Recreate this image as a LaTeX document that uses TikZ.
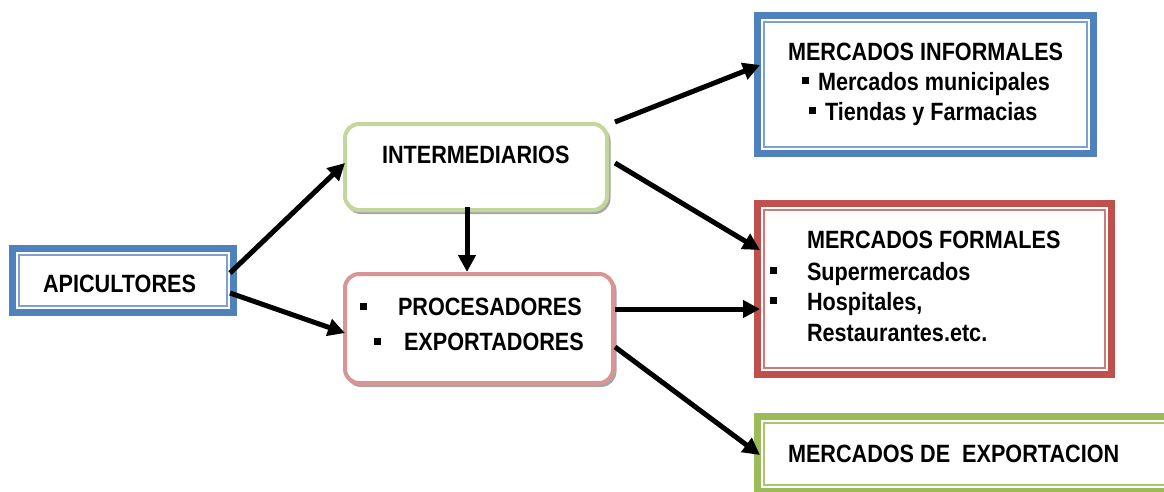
\documentclass[tikz,border=0pt]{standalone}
\usepackage{fontspec}
\setmainfont{Liberation Sans}[FakeStretch=0.865]
\usetikzlibrary{arrows.meta}
\definecolor{bandblue}{HTML}{4F81BD}
\definecolor{bandred}{HTML}{C0504D}
\definecolor{bandgreen}{HTML}{9BBB59}
\definecolor{lineblue}{HTML}{7EA1CF}
\definecolor{linered}{HTML}{D07A78}
\definecolor{linegreen}{HTML}{A9C56E}
\definecolor{rgreen}{HTML}{C3D69B}
\definecolor{rpink}{HTML}{D99594}
\definecolor{shadowgray}{HTML}{A6A6A6}
\tikzset{
  txt/.style={font=\fontsize{25}{30}\selectfont\bfseries, inner sep=0pt, outer sep=0pt, text=black},
  bul/.style={fill=black, minimum size=7pt, inner sep=0pt, outer sep=0pt},
  band/.style={draw=#1, line width=7pt, inner sep=0pt, outer sep=0pt, fill=white},
  thinline/.style={draw=#1, line width=2pt},
  rbox/.style={draw=#1, line width=4pt, rounded corners=14pt, inner sep=0pt, outer sep=0pt, fill=white,
     preaction={draw=shadowgray, line width=3pt, transform canvas={shift={(2pt,-2.5pt)}}}},
  arr/.style={line width=5pt, -{Triangle[length=17pt,width=17pt]}},
}
\begin{document}
\begin{tikzpicture}[x=1pt,y=-1pt]
\useasboundingbox (0,0) rectangle (1164,491);
\fill[white] (0,0) rectangle (1164,491);
\begin{scope}
\clip (0,0) rectangle (1164,491);
% double-band boxes
\node[band=bandblue, minimum width=221pt, minimum height=64pt] (api) at (123,280.5) {};
\node[band=bandblue, minimum width=336pt, minimum height=138pt] (inf) at (925.5,84.5) {};
\node[band=bandred, minimum width=354pt, minimum height=171pt] (for) at (934.5,289) {};
\node[band=bandgreen, minimum width=414pt, minimum height=75pt] (exp) at (964.5,454) {};
\draw[thinline=lineblue] ([shift={(6.8,6.8)}]api.north west) rectangle ([shift={(-6.8,-6.8)}]api.south east);
\draw[thinline=lineblue] ([shift={(6.8,6.8)}]inf.north west) rectangle ([shift={(-6.8,-6.8)}]inf.south east);
\draw[thinline=linered] ([shift={(6.8,6.8)}]for.north west) rectangle ([shift={(-6.8,-6.8)}]for.south east);
\draw[thinline=linegreen] ([shift={(6.8,6.8)}]exp.north west) rectangle ([shift={(-6.8,-6.8)}]exp.south east);
% rounded boxes
\node[rbox=rgreen, minimum width=262pt, minimum height=86pt] (int) at (476,167) {};
\node[rbox=rpink, minimum width=268pt, minimum height=109pt] (proc) at (479,328.5) {};
% texts
\node[txt, anchor=base west] (tapi) at (43,292) {APICULTORES};
\node[txt, anchor=base west] (tint) at (382,163) {INTERMEDIARIOS};
\node[bul] (bp1) at (363,306) {};
\node[txt, anchor=base west] (tproc) at (398,315) {PROCESADORES};
\node[bul] (bp2) at (377,341) {};
\node[txt, anchor=base west] (texpo) at (404,350) {EXPORTADORES};
\node[txt, anchor=base west] (tinf) at (788,60) {MERCADOS INFORMALES};
\node[bul] (bi1) at (805,80) {};
\node[txt, anchor=base west] (tmun) at (818,90) {Mercados municipales};
\node[bul] (bi2) at (812,110) {};
\node[txt, anchor=base west] (ttie) at (825,120) {Tiendas y Farmacias};
\node[txt, anchor=base west] (tfor) at (807,248) {MERCADOS FORMALES};
\node[bul] (bf1) at (773,270) {};
\node[txt, anchor=base west] (tsup) at (807,280) {Supermercados};
\node[bul] (bf2) at (773,300) {};
\node[txt, anchor=base west] (thos) at (807,310) {Hospitales,};
\node[txt, anchor=base west] (tres) at (807,341) {Restaurantes.etc.};
\node[txt, anchor=base west] (texp) at (788,462) {MERCADOS DE\ \ EXPORTACION};
% arrows
\draw[arr] ([shift={(-3.5,-7.5)}]api.east) -- ([shift={(0,-4)}]int.west);
\draw[arr] ([shift={(-3.5,12.5)}]api.east) -- ([shift={(0,4.5)}]proc.west);
\draw[arr] ([shift={(-9,-3)}]int.south) -- ([shift={(-12,-2)}]proc.north);
\draw[arr] ([shift={(8,-45)}]int.east) -- ([shift={(2.5,-19.5)}]inf.west);
\draw[arr] ([shift={(8,-4)}]int.east) -- ([shift={(2.5,-39)}]for.west);
\draw[arr] ([shift={(2,-19.5)}]proc.east) -- ([shift={(2.5,20)}]for.west);
\draw[arr] ([shift={(2,18.5)}]proc.east) -- ([shift={(2.5,1)}]exp.west);
\end{scope}
\end{tikzpicture}
\end{document}
